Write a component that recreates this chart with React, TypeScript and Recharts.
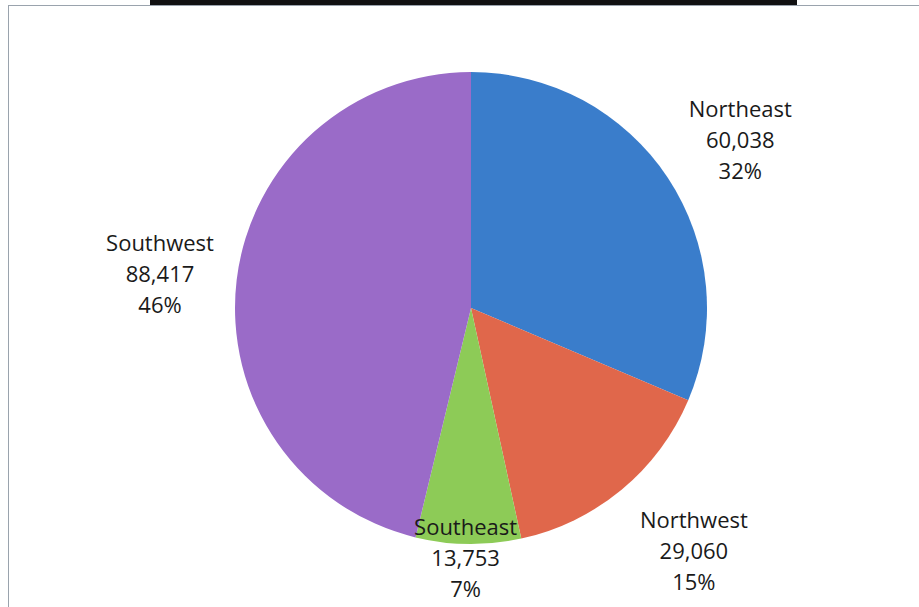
import React from "react";
import { PieChart, Pie, Cell } from "recharts";

const regions = ["Northeast", "Northwest", "Southeast", "Southwest"];
const values = [60038, 29060, 13753, 88417];
const percentLabels = ["32%", "15%", "7%", "46%"];

const COLORS = ["#3A7DCB", "#E0674B", "#8DCB57", "#9A6BC8"];
const LABEL_RADIUS = [1.347, 1.394, 1.055, 1.326];
const LABEL_ANGLE_SHIFT = [-1.4, 3, -0.6, 0.4];

const data = regions.map((name, i) => ({
  name,
  value: values[i],
  pct: percentLabels[i],
}));

const RAD = Math.PI / 180;

const renderLabel = (props: any) => {
  const { cx, cy, midAngle, outerRadius, index } = props;
  const r = outerRadius * LABEL_RADIUS[index];
  const a = midAngle + LABEL_ANGLE_SHIFT[index];
  const x = cx + r * Math.cos(-a * RAD);
  const y = cy + r * Math.sin(-a * RAD);
  const d = data[index];
  const lh = 31;
  return (
    <text
      x={x}
      y={y - lh}
      textAnchor="middle"
      dominantBaseline="central"
      fontFamily="'Open Sans', sans-serif"
      fontSize={22}
      fill="#1a1a1a"
    >
      <tspan x={x} dy={0}>{d.name}</tspan>
      <tspan x={x} dy={lh}>{d.value.toLocaleString("en-US")}</tspan>
      <tspan x={x} dy={lh}>{d.pct}</tspan>
    </text>
  );
};

export default function App() {
  return (
    <div
      style={{
        position: "absolute",
        left: 0,
        top: 0,
        width: 919,
        height: 607,
        background: "#fff",
        overflow: "hidden",
      }}
    >
      <div style={{ position: "absolute", left: 8, top: 5, width: 911, height: 1, background: "#9aa3ad" }} />
      <div style={{ position: "absolute", left: 8, top: 5, width: 1, height: 602, background: "#9aa3ad" }} />
      <div style={{ position: "absolute", left: 150, top: 0, width: 647, height: 5, background: "#111" }} />
      <div style={{ position: "absolute", left: 0, top: 0 }}>
        <PieChart width={919} height={607} margin={{ top: 0, right: 0, bottom: 0, left: 0 }}>
          <Pie
            data={data}
            dataKey="value"
            nameKey="name"
            cx={471}
            cy={308}
            outerRadius={236}
            startAngle={90}
            endAngle={-270}
            stroke="none"
            label={renderLabel}
            labelLine={false}
            isAnimationActive={false}
          >
            {data.map((d, i) => (
              <Cell key={d.name} fill={COLORS[i]} />
            ))}
          </Pie>
        </PieChart>
      </div>
    </div>
  );
}
